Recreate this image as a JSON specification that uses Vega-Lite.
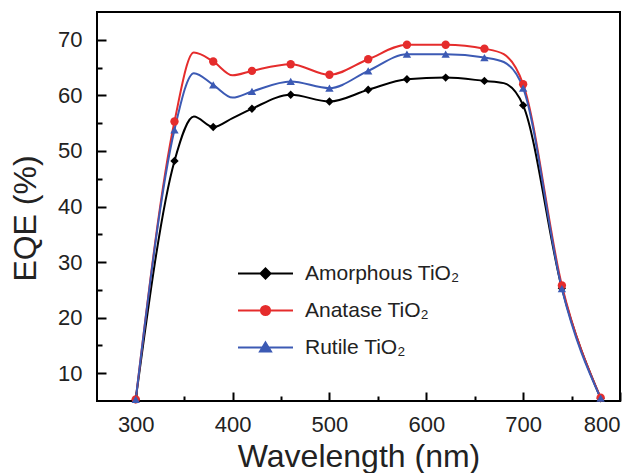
{
  "$schema": "https://vega.github.io/schema/vega-lite/v6.json",
  "width": 523,
  "height": 389,
  "autosize": {"type": "none"},
  "padding": {"left": 97, "top": 12, "right": 22, "bottom": 72},
  "background": "white",
  "config": {
    "font": "Liberation Sans",
    "view": {"stroke": "black", "strokeWidth": 2},
    "axis": {
      "domain": false,
      "grid": false,
      "tickColor": "black",
      "tickWidth": 2,
      "labelColor": "#222222",
      "titleColor": "#222222",
      "labelFont": "Liberation Sans",
      "titleFont": "Liberation Sans",
      "labelFontSize": 22,
      "titleFontSize": 32,
      "titleFontWeight": "normal"
    }
  },
  "data": {
    "values": [
      {"sample": "Amorphous TiO₂", "wavelength": 300, "eqe": 5.3},
      {"sample": "Amorphous TiO₂", "wavelength": 340, "eqe": 48.2},
      {"sample": "Amorphous TiO₂", "wavelength": 360, "eqe": 56.2},
      {"sample": "Amorphous TiO₂", "wavelength": 380, "eqe": 54.3},
      {"sample": "Amorphous TiO₂", "wavelength": 400, "eqe": 55.9},
      {"sample": "Amorphous TiO₂", "wavelength": 420, "eqe": 57.6},
      {"sample": "Amorphous TiO₂", "wavelength": 460, "eqe": 60.1},
      {"sample": "Amorphous TiO₂", "wavelength": 500, "eqe": 58.9},
      {"sample": "Amorphous TiO₂", "wavelength": 540, "eqe": 61.0},
      {"sample": "Amorphous TiO₂", "wavelength": 580, "eqe": 62.9},
      {"sample": "Amorphous TiO₂", "wavelength": 620, "eqe": 63.2},
      {"sample": "Amorphous TiO₂", "wavelength": 660, "eqe": 62.6},
      {"sample": "Amorphous TiO₂", "wavelength": 680, "eqe": 62.2},
      {"sample": "Amorphous TiO₂", "wavelength": 700, "eqe": 58.2},
      {"sample": "Amorphous TiO₂", "wavelength": 740, "eqe": 25.3},
      {"sample": "Amorphous TiO₂", "wavelength": 780, "eqe": 5.5},
      {"sample": "Anatase TiO₂", "wavelength": 300, "eqe": 5.3},
      {"sample": "Anatase TiO₂", "wavelength": 340, "eqe": 55.3},
      {"sample": "Anatase TiO₂", "wavelength": 360, "eqe": 67.7},
      {"sample": "Anatase TiO₂", "wavelength": 380, "eqe": 66.1},
      {"sample": "Anatase TiO₂", "wavelength": 400, "eqe": 63.6},
      {"sample": "Anatase TiO₂", "wavelength": 420, "eqe": 64.4},
      {"sample": "Anatase TiO₂", "wavelength": 460, "eqe": 65.6},
      {"sample": "Anatase TiO₂", "wavelength": 500, "eqe": 63.7},
      {"sample": "Anatase TiO₂", "wavelength": 540, "eqe": 66.5},
      {"sample": "Anatase TiO₂", "wavelength": 580, "eqe": 69.1},
      {"sample": "Anatase TiO₂", "wavelength": 620, "eqe": 69.1},
      {"sample": "Anatase TiO₂", "wavelength": 660, "eqe": 68.4},
      {"sample": "Anatase TiO₂", "wavelength": 680, "eqe": 67.4},
      {"sample": "Anatase TiO₂", "wavelength": 700, "eqe": 62.0},
      {"sample": "Anatase TiO₂", "wavelength": 740, "eqe": 25.8},
      {"sample": "Anatase TiO₂", "wavelength": 780, "eqe": 5.6},
      {"sample": "Rutile TiO₂", "wavelength": 300, "eqe": 5.3},
      {"sample": "Rutile TiO₂", "wavelength": 340, "eqe": 53.8},
      {"sample": "Rutile TiO₂", "wavelength": 360, "eqe": 64.0},
      {"sample": "Rutile TiO₂", "wavelength": 380, "eqe": 61.9},
      {"sample": "Rutile TiO₂", "wavelength": 400, "eqe": 59.6},
      {"sample": "Rutile TiO₂", "wavelength": 420, "eqe": 60.7},
      {"sample": "Rutile TiO₂", "wavelength": 460, "eqe": 62.5},
      {"sample": "Rutile TiO₂", "wavelength": 500, "eqe": 61.3},
      {"sample": "Rutile TiO₂", "wavelength": 540, "eqe": 64.4},
      {"sample": "Rutile TiO₂", "wavelength": 580, "eqe": 67.4},
      {"sample": "Rutile TiO₂", "wavelength": 620, "eqe": 67.4},
      {"sample": "Rutile TiO₂", "wavelength": 660, "eqe": 66.8},
      {"sample": "Rutile TiO₂", "wavelength": 680, "eqe": 66.0},
      {"sample": "Rutile TiO₂", "wavelength": 700, "eqe": 61.3},
      {"sample": "Rutile TiO₂", "wavelength": 740, "eqe": 25.2},
      {"sample": "Rutile TiO₂", "wavelength": 780, "eqe": 5.5}
    ]
  },
  "encoding": {
    "x": {
      "field": "wavelength",
      "type": "quantitative",
      "scale": {"domain": [260, 800], "nice": false, "zero": false},
      "axis": {
        "title": "Wavelength (nm)",
        "values": [300, 350, 400, 450, 500, 550, 600, 650, 700, 750, 800],
        "labelExpr": "datum.value % 100 === 0 ? datum.label : ''",
        "tickSize": {"condition": {"test": "datum.value % 100 === 0", "value": -9}, "value": -5},
        "labelPadding": 22,
        "titleBaseline": "alphabetic",
        "titleY": 65
      }
    },
    "y": {
      "field": "eqe",
      "type": "quantitative",
      "scale": {"domain": [5, 75], "nice": false, "zero": false},
      "axis": {
        "title": "EQE (%)",
        "values": [10, 15, 20, 25, 30, 35, 40, 45, 50, 55, 60, 65, 70],
        "labelExpr": "datum.value % 10 === 0 ? datum.label : ''",
        "tickSize": {"condition": {"test": "datum.value % 10 === 0", "value": -9}, "value": -5},
        "labelPadding": 24,
        "titleX": -55,
        "titleY": 206,
        "titleBaseline": "bottom"
      }
    },
    "color": {
      "field": "sample",
      "type": "nominal",
      "scale": {
        "domain": ["Amorphous TiO₂", "Anatase TiO₂", "Rutile TiO₂"],
        "range": ["#000000", "#e52c2c", "#3c5ab4"]
      },
      "legend": {
        "orient": "none",
        "legendX": 158,
        "legendY": 251,
        "title": null,
        "padding": 0,
        "labelFontSize": 21,
        "labelColor": "#222222",
        "labelFont": "Liberation Sans",
        "symbolSize": 336,
        "symbolStrokeWidth": 2,
        "symbolOpacity": 1,
        "labelOffset": 29,
        "rowPadding": 15
      }
    }
  },
  "layer": [
    {
      "mark": {"type": "point", "filled": true, "opacity": 0},
      "encoding": {
        "shape": {
          "field": "sample",
          "type": "nominal",
          "scale": {
            "domain": ["Amorphous TiO₂", "Anatase TiO₂", "Rutile TiO₂"],
            "range": [
              "M-3,0H3M0,-0.55L0.55,0L0,0.55L-0.55,0Z",
              "M-3,0H3M0.5,0A0.5,0.5,0,1,1,-0.5,0A0.5,0.5,0,1,1,0.5,0Z",
              "M-3,0H3M0,-0.55L0.6,0.45L-0.6,0.45Z"
            ]
          },
          "legend": {
            "orient": "none",
            "legendX": 158,
            "legendY": 251,
            "title": null,
            "padding": 0,
            "labelFontSize": 21,
            "labelColor": "#222222",
            "labelFont": "Liberation Sans",
            "symbolSize": 336,
            "symbolStrokeWidth": 2,
            "symbolOpacity": 1,
            "labelOffset": 29,
            "rowPadding": 15
          }
        }
      }
    },
    {
      "mark": {"type": "line", "interpolate": "monotone", "strokeWidth": 2}
    },
    {
      "transform": [{"filter": "datum.wavelength % 40 === 20 && datum.sample === 'Amorphous TiO₂'"}],
      "mark": {"type": "point", "filled": true, "opacity": 1, "size": 70, "shape": "diamond"}
    },
    {
      "transform": [{"filter": "datum.wavelength % 40 === 20 && datum.sample === 'Anatase TiO₂'"}],
      "mark": {"type": "point", "filled": true, "opacity": 1, "size": 70, "shape": "circle"}
    },
    {
      "transform": [{"filter": "datum.wavelength % 40 === 20 && datum.sample === 'Rutile TiO₂'"}],
      "mark": {"type": "point", "filled": true, "opacity": 1, "size": 70, "shape": "triangle-up"}
    }
  ]
}
